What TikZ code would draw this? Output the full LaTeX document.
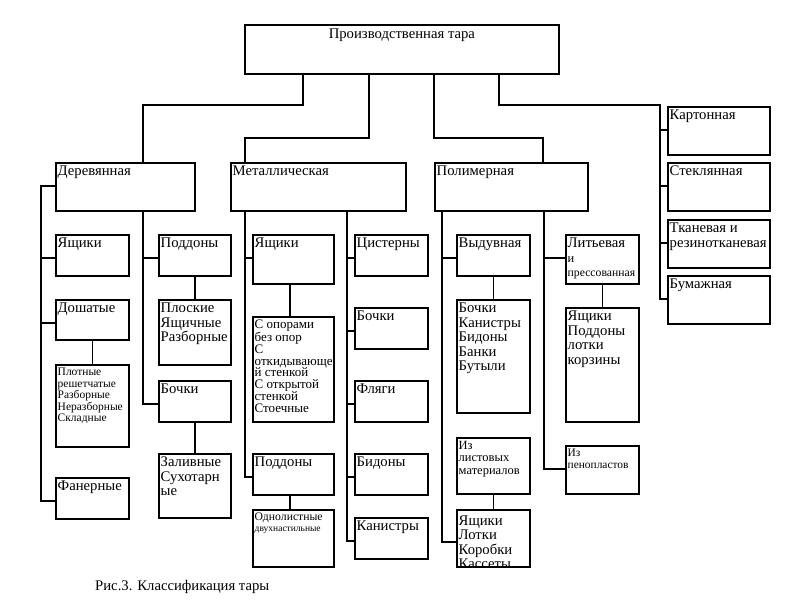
\documentclass[tikz,border=0pt]{standalone}
\usepackage{fontspec}
\setmainfont{Liberation Serif}
\usetikzlibrary{calc}
\tikzset{
  box/.style={draw=black, line width=1.8pt, fill=none, inner sep=0pt, anchor=north west},
  conn/.style={draw=black, line width=1.4pt},
  lbl/.style={anchor=north west, align=left, inner xsep=2.5pt, inner ysep=4pt},
  fA/.style={font=\fontsize{14.7}{14.5}\selectfont},
  fB/.style={font=\fontsize{13}{11.7}\selectfont},
  fC/.style={font=\fontsize{11.5}{11.5}\selectfont},
  fD/.style={font=\fontsize{12.5}{12.5}\selectfont},
  fE/.style={font=\fontsize{11.4}{12}\selectfont},
}
\newcommand\bx[5]{\node[box, minimum width={(#4-#2)*1pt}, minimum height={(#5-#3)*1pt}] (#1) at (#2,#3) {};}
\newcommand\tx[3]{\node[lbl, #2] (#1t) at (#1.north west) {#3};}
\newcommand\tk[2]{\coordinate (#1T) at ([yshift=-24pt]#1.north west); \draw[conn] (#1T) -- (#1T -| #2);}
\begin{document}
\begin{tikzpicture}[x=1pt,y=-1pt]
\useasboundingbox (0,0) rectangle (800,600);
\fill[white] (0,0) rectangle (800,600);
% top
\bx{top}{244}{24}{558}{73}
\node[fA, anchor=north, inner sep=0pt] (topt) at ([yshift=-5pt]top.north) {Производственная тара};
% level 1
\bx{der}{55}{162}{194}{210} \tx{der}{fA}{Деревянная}
\bx{met}{230}{162}{405}{210} \tx{met}{fA}{Металлическая}
\bx{pol}{434}{162}{587}{210} \tx{pol}{fA}{Полимерная}
\bx{kar}{667}{106}{769}{154} \tx{kar}{fA}{Картонная}
\bx{stk}{667}{162}{769}{210} \tx{stk}{fA}{Стеклянная}
\bx{tkn}{667}{219}{769}{267} \tx{tkn}{fA}{Тканевая и\\резинотканевая}
\bx{bum}{667}{275}{769}{323} \tx{bum}{fA}{Бумажная}
% wood
\bx{dy}{55}{234}{128}{275} \tx{dy}{fA}{Ящики}
\bx{dd}{55}{299}{128}{339} \tx{dd}{fA}{Дошатые}
\bx{dp}{55}{364}{128}{446} \tx{dp}{fC}{Плотные\\решетчатые\\Разборные\\Неразборные\\Складные}
\bx{df}{55}{477}{128}{518} \tx{df}{fA}{Фанерные}
\bx{dpd}{158}{234}{230}{275} \tx{dpd}{fA}{Поддоны}
\bx{dpl}{158}{299}{230}{364} \tx{dpl}{fA}{Плоские\\Ящичные\\Разборные}
\bx{db}{158}{380}{230}{421} \tx{db}{fA}{Бочки}
\bx{dz}{158}{453}{230}{517} \tx{dz}{fA}{Заливные\\Сухотарн\\ые}
% metal
\bx{my}{252}{234}{333}{283} \tx{my}{fA}{Ящики}
\bx{mo}{252}{316}{333}{421} \tx{mo}{fB}{С опорами\\без опор\\С\\откидывающе\\й стенкой\\С открытой\\стенкой\\Стоечные}
\bx{mpd}{252}{453}{333}{494} \tx{mpd}{fA}{Поддоны}
\bx{mod}{252}{509}{333}{566} \tx{mod}{font=\fontsize{11.7}{11}\selectfont}{Однолистные\\{\fontsize{9.5}{9}\selectfont двухнастильные}}
\bx{mc}{354}{234}{427}{275} \tx{mc}{fA}{Цистерны}
\bx{mb}{354}{307}{427}{348} \tx{mb}{fA}{Бочки}
\bx{mf}{354}{380}{427}{421} \tx{mf}{fA}{Фляги}
\bx{mbd}{354}{453}{427}{494} \tx{mbd}{fA}{Бидоны}
\bx{mk}{354}{517}{427}{558} \tx{mk}{fA}{Канистры}
% polymer
\bx{pv}{456}{234}{529}{275} \tx{pv}{fA}{Выдувная}
\bx{pb}{456}{299}{529}{412} \tx{pb}{fA}{Бочки\\Канистры\\Бидоны\\Банки\\Бутыли}
\bx{pl}{456}{437}{529}{493} \tx{pl}{fD}{Из\\листовых\\материалов}
\bx{pyl}{456}{509}{529}{566}
\begin{scope}
\clip (pyl.north west) rectangle (pyl.south east);
\tx{pyl}{fA, inner ysep=6.5pt}{Ящики\\Лотки\\Коробки\\Кассеты}
\end{scope}
\bx{pli}{565}{234}{638}{283} \tx{pli}{fA}{Литьевая\\{\fontsize{12.5}{12}\selectfont и}\\{\fontsize{11.7}{12}\selectfont прессованная}}
\bx{pya}{565}{307}{638}{421} \tx{pya}{fA}{Ящики\\Поддоны\\лотки\\корзины}
\bx{pp}{565}{445}{638}{493} \tx{pp}{fE}{Из\\пенопластов}
% caption
\node[fA, anchor=base west, inner sep=0pt] (cap) at (95,590) {Рис.3. Классификация тары};
% connectors from top
\coordinate (a1) at (303,105); \coordinate (a2) at (143,105);
\draw[conn] (top.south -| a1) -- (a1) -- (a2) -- (der.north -| a2);
\coordinate (b1) at (369,138); \coordinate (b2) at (245,138);
\draw[conn] (top.south -| b1) -- (b1) -- (b2) -- (met.north -| b2);
\coordinate (c1) at (434,138); \coordinate (c2) at (543,138);
\draw[conn] (top.south -| c1) -- (c1) -- (c2) -- (pol.north -| c2);
\coordinate (d1) at (499,105); \coordinate (d2) at (660,105);
\coordinate (bumT) at ([yshift=-24pt]bum.north west);
\draw[conn] (top.south -| d1) -- (d1) -- (d2) -- (bumT -| d2) -- (bumT);
\tk{kar}{d2} \tk{stk}{d2} \tk{tkn}{d2}
% wood trunks
\coordinate (w1) at (41,0); \coordinate (w2) at (143,0);
\coordinate (derT) at ([yshift=-24pt]der.north west);
\coordinate (dfT) at ([yshift=-24pt]df.north west);
\draw[conn] (derT) -- (derT -| w1) -- (dfT -| w1) -- (dfT);
\tk{dy}{w1} \tk{dd}{w1}
\coordinate (dbT) at ([yshift=-24pt]db.north west);
\draw[conn] (der.south -| w2) -- (dbT -| w2) -- (dbT);
\tk{dpd}{w2}
\draw[conn] (dd.south) -- (dp.north);
\draw[conn] (dpd.south) -- (dpl.north);
\draw[conn] (db.south) -- (dz.north);
% metal trunks
\coordinate (m1) at (245,0); \coordinate (m2) at (347,0);
\coordinate (mpdT) at ([yshift=-24pt]mpd.north west);
\draw[conn] (met.south -| m1) -- (mpdT -| m1) -- (mpdT);
\tk{my}{m1}
\coordinate (mkT) at ([yshift=-24pt]mk.north west);
\draw[conn] (met.south -| m2) -- (mkT -| m2) -- (mkT);
\tk{mc}{m2} \tk{mb}{m2} \tk{mf}{m2} \tk{mbd}{m2}
\coordinate (mx) at (290,0);
\draw[conn] (my.south -| mx) -- (mo.north -| mx);
\draw[conn] (mpd.south -| mx) -- (mod.north -| mx);
% polymer trunks
\coordinate (p1) at (442,0); \coordinate (p2) at (544,0);
\coordinate (pylT) at ([yshift=-33pt]pyl.north west);
\draw[conn] (pol.south -| p1) -- (pylT -| p1) -- (pylT);
\tk{pv}{p1}
\coordinate (ppT) at ([yshift=-24pt]pp.north west);
\draw[conn] (pol.south -| p2) -- (ppT -| p2) -- (ppT);
\tk{pli}{p2}
\draw[conn] (pv.south) -- (pb.north);
\draw[conn] (pl.south) -- (pyl.north);
\draw[conn] (pli.south) -- (pya.north);
\end{tikzpicture}
\end{document}
